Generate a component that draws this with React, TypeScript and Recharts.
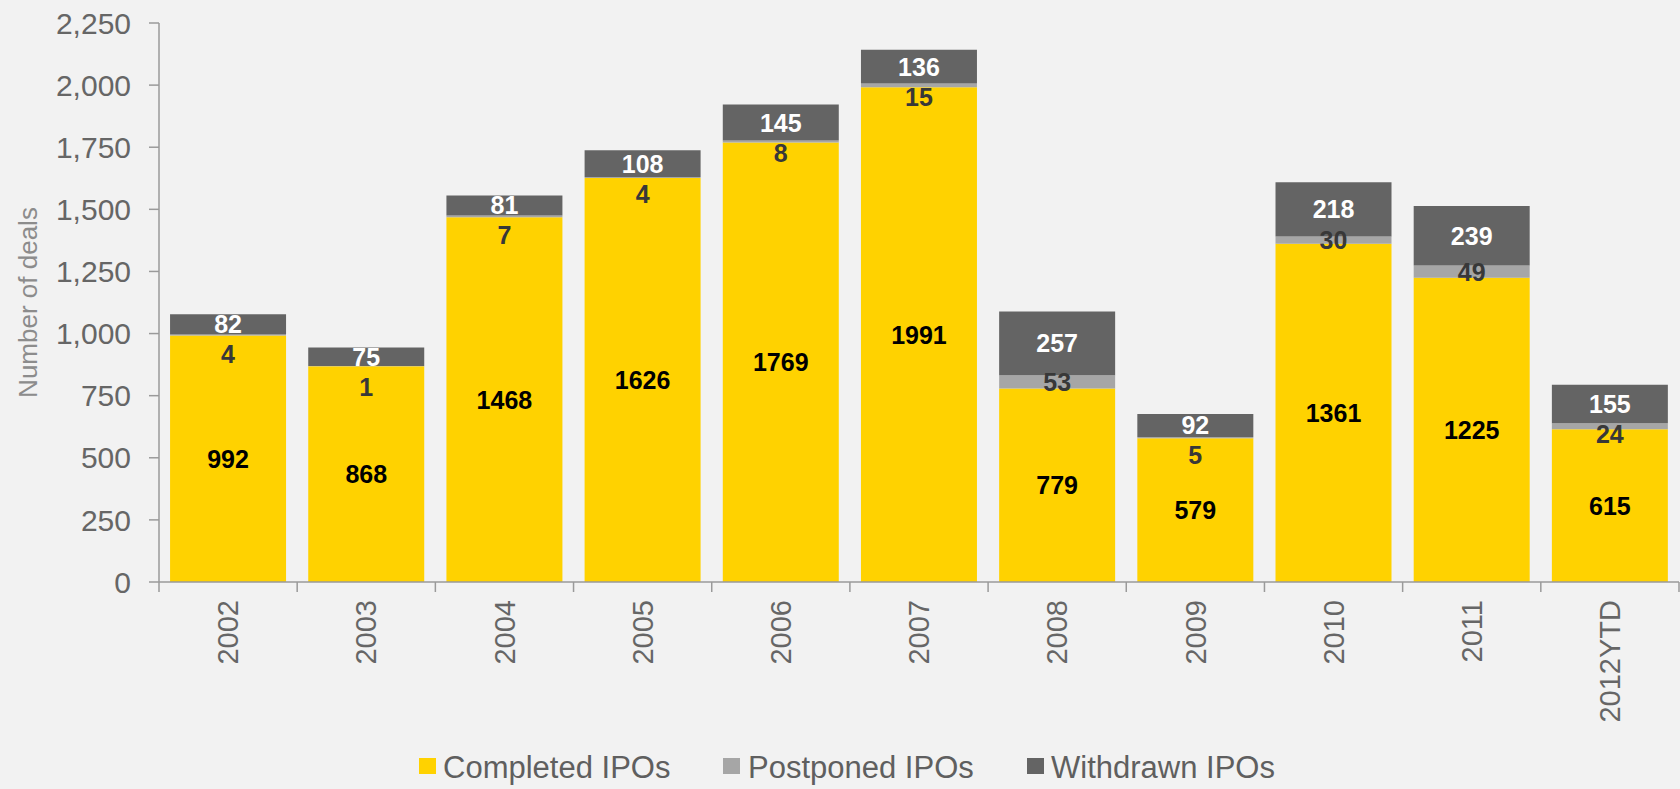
import React from 'react';
import { BarChart, Bar, XAxis, YAxis, Legend, LabelList } from 'recharts';

// chart values
const years = ['2002', '2003', '2004', '2005', '2006', '2007', '2008', '2009', '2010', '2011', '2012YTD'];
const completed = [992, 868, 1468, 1626, 1769, 1991, 779, 579, 1361, 1225, 615];
const postponed = [4, 1, 7, 4, 8, 15, 53, 5, 30, 49, 24];
const withdrawn = [82, 75, 81, 108, 145, 136, 257, 92, 218, 239, 155];
const yTicks = [0, 250, 500, 750, 1000, 1250, 1500, 1750, 2000, 2250];

const seriesNames = ['Completed IPOs', 'Postponed IPOs', 'Withdrawn IPOs'];
const seriesColors = ['#FFD200', '#A6A6A6', '#646464'];

const data = years.map((year, i) => ({
  year,
  completed: completed[i],
  postponed: postponed[i],
  withdrawn: withdrawn[i],
}));

// layout
const W = 1680;
const H = 789;
const LEFT = 159;
const RIGHT = 1;
const TOP = 23;
const LEGEND_H = 50;
const X_AXIS_H = 157;
const PLOT_H = H - TOP - LEGEND_H - X_AXIS_H;
const BAND = (W - LEFT - RIGHT) / years.length;
const PX_PER_UNIT = PLOT_H / 2250;
const FONT = '"Liberation Sans", Arial, sans-serif';

// legend item placement (left of swatch, left of text)
const legendLayout = [
  { swatch: 419, text: 443 },
  { swatch: 723, text: 748 },
  { swatch: 1027, text: 1051 },
];

const AxisTitle = (props: any) => {
  const { viewBox } = props;
  const cx = viewBox.x + 28;
  const cy = viewBox.y + viewBox.height / 2;
  return (
    <text
      x={cx}
      y={cy}
      transform={`rotate(-90, ${cx}, ${cy})`}
      textAnchor="middle"
      dominantBaseline="central"
      fill="#8c8c8c"
      fontSize={26}
      fontFamily={FONT}
    >
      Number of deals
    </text>
  );
};

const YearTick = (props: any) => {
  const { x, y, payload, index } = props;
  const half = BAND / 2;
  const ty = y + 18;
  return (
    <g>
      <line x1={x - half} x2={x - half} y1={y} y2={y + 10} stroke="#9a9a9a" strokeWidth={1.5} />
      {index === years.length - 1 && (
        <line x1={x + half} x2={x + half} y1={y} y2={y + 10} stroke="#9a9a9a" strokeWidth={1.5} />
      )}
      <text
        x={x}
        y={ty}
        transform={`rotate(-90, ${x}, ${ty})`}
        textAnchor="end"
        dy="0.35em"
        fill="#666"
        fontSize={29}
        fontFamily={FONT}
      >
        {payload.value}
      </text>
    </g>
  );
};

const valueText = (x: number, y: number, value: any, fill: string) => (
  <text
    x={x}
    y={y}
    textAnchor="middle"
    dominantBaseline="central"
    fill={fill}
    fontSize={25}
    fontWeight="bold"
    fontFamily={FONT}
  >
    {value}
  </text>
);

const completedLabel = (p: any) => valueText(p.x + p.width / 2, p.y + p.height / 2, p.value, '#000');

const withdrawnLabel = (p: any) => valueText(p.x + p.width / 2, p.y + p.height / 2, p.value, '#fff');

// postponed segments are thin, so keep the label clear of the withdrawn label above
const postponedLabel = (p: any) => {
  const center = p.y + p.height / 2;
  const wCenter = p.y - (withdrawn[p.index] * PX_PER_UNIT) / 2;
  return valueText(p.x + p.width / 2, Math.max(center, wCenter + 30), p.value, '#383838');
};

const renderLegend = () => (
  <svg width={W} height={LEGEND_H} style={{ display: 'block' }}>
    {seriesNames.map((name, i) => (
      <g key={name}>
        <rect x={legendLayout[i].swatch} y={19} width={17} height={16} fill={seriesColors[i]} />
        <text x={legendLayout[i].text} y={39} fill="#5f5f5f" fontSize={31} fontFamily={FONT}>
          {name}
        </text>
      </g>
    ))}
  </svg>
);

export default function App() {
  return (
    <div style={{ width: W, height: H, background: '#f2f2f2' }}>
      <style>{`body { margin: 0; background: #f2f2f2; }`}</style>
      <BarChart
        width={W}
        height={H}
        data={data}
        margin={{ top: TOP, right: RIGHT, left: 0, bottom: 0 }}
        barCategoryGap="8%"
        style={{ fontFamily: FONT }}
      >
        <XAxis
          dataKey="year"
          height={X_AXIS_H}
          interval={0}
          tickSize={0}
          tickMargin={0}
          tickLine={false}
          axisLine={{ stroke: '#9a9a9a', strokeWidth: 1.5 }}
          tick={<YearTick />}
        />
        <YAxis
          width={LEFT}
          domain={[0, 2250]}
          ticks={yTicks}
          interval={0}
          tickSize={10}
          tickMargin={18}
          tickFormatter={(v: number) => v.toLocaleString('en-US')}
          tick={{ fill: '#666', fontSize: 30, fontFamily: FONT }}
          tickLine={{ stroke: '#9a9a9a', strokeWidth: 1.5 }}
          axisLine={{ stroke: '#9a9a9a', strokeWidth: 1.5 }}
          label={AxisTitle}
        />
        <Legend verticalAlign="bottom" content={renderLegend} wrapperStyle={{ left: 0, width: W, height: LEGEND_H }} />
        <Bar dataKey="completed" name={seriesNames[0]} stackId="ipo" fill={seriesColors[0]} isAnimationActive={false}>
          <LabelList dataKey="completed" content={completedLabel} />
        </Bar>
        <Bar dataKey="postponed" name={seriesNames[1]} stackId="ipo" fill={seriesColors[1]} isAnimationActive={false}>
          <LabelList dataKey="postponed" content={postponedLabel} />
        </Bar>
        <Bar dataKey="withdrawn" name={seriesNames[2]} stackId="ipo" fill={seriesColors[2]} isAnimationActive={false}>
          <LabelList dataKey="withdrawn" content={withdrawnLabel} />
        </Bar>
      </BarChart>
    </div>
  );
}
